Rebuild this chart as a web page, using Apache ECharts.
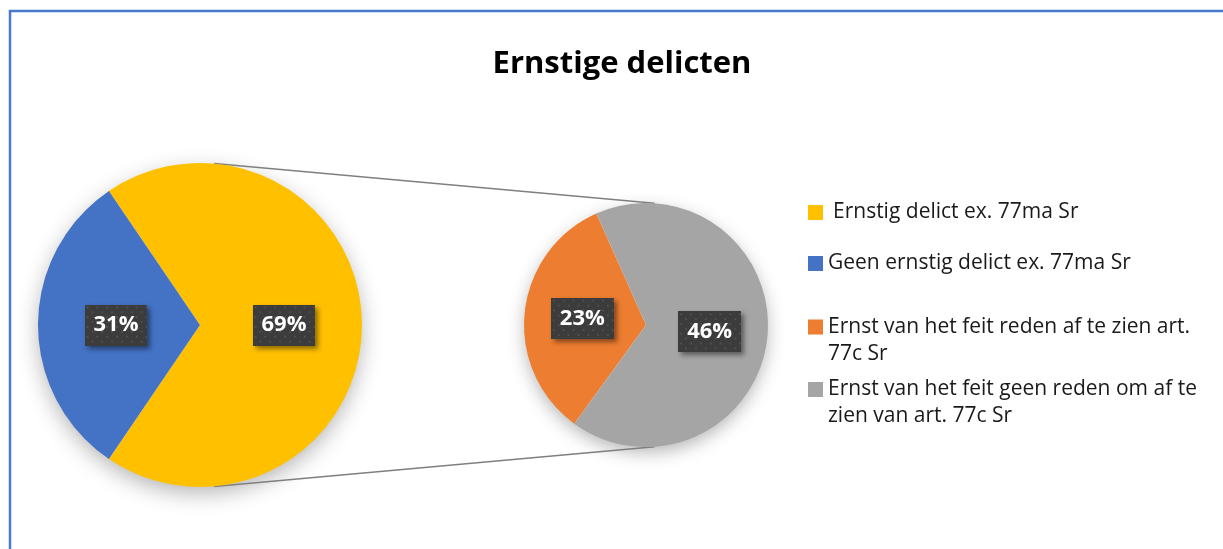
<!DOCTYPE html>
<html>
<head>
<meta charset="utf-8">
<script src="https://cdn.jsdelivr.net/npm/echarts@6/dist/echarts.min.js"></script>
<style>
  html, body { margin: 0; padding: 0; background: #fff; }
  #chart { width: 1223px; height: 549px; }
</style>
</head>
<body>
<div id="chart"></div>
<script>
// hoofdcirkel
const hoofdNamen = ['Ernstig delict ex. 77ma Sr', 'Geen ernstig delict ex. 77ma Sr'];
const hoofdWaarden = [69, 31];
// uitsplitsing van het ernstige deel
const subNamen = ['Ernst van het feit reden af te zien art. 77c Sr',
                  'Ernst van het feit geen reden om af te zien van art. 77c Sr'];
const subWaarden = [23, 46];

const GEEL = '#FFC000', BLAUW = '#4472C4', ORANJE = '#ED7D31', GRIJS = '#A5A5A5';
const FONT = '"Open Sans", sans-serif';

// layout van de twee cirkels
const L = { cx: 200, cy: 325, r: 162 };
const R = { cx: 646, cy: 325, r: 122 };

// gestippelde achtergrond voor de labels
function stippen() {
  const c = document.createElement('canvas');
  c.width = 64; c.height = 42;
  const g = c.getContext('2d');
  g.fillStyle = '#3c3c3c';
  g.fillRect(0, 0, c.width, c.height);
  g.fillStyle = '#4e4e4e';
  for (let y = 2, rij = 0; y < c.height; y += 5, rij++) {
    for (let x = (rij % 2) * 5 + 2; x < c.width; x += 10) g.fillRect(x, y, 2, 2);
  }
  return c;
}
const LABEL = {
  show: true, position: 'inside', formatter: '{c}%',
  color: '#fff', fontFamily: FONT, fontWeight: 'bold', fontSize: 22,
  backgroundColor: { image: stippen() }, padding: [9, 9, 10, 9],
  shadowColor: 'rgba(0,0,0,0.45)', shadowBlur: 5, shadowOffsetX: 3, shadowOffsetY: 3
};

function punt(p, hoek) {
  const a = hoek * Math.PI / 180;
  return [p.cx + p.r * Math.cos(a), p.cy - p.r * Math.sin(a)];
}
const lt = punt(L, 85), lb = punt(L, -85), rt = punt(R, 86), rb = punt(R, -86);

// twee regels: lege regel ervoor zodat de eerste regel naast het blokje staat
function legenda(naam, top, tweeRegels, extra) {
  return {
    data: [naam], left: 808, top: top, orient: 'vertical', padding: 0,
    icon: 'rect', itemWidth: 15, itemHeight: 15, selectedMode: false,
    formatter: tweeRegels ? (n) => '\n' + n : '{name}',
    textStyle: Object.assign({ fontFamily: FONT, fontSize: 21, color: '#1a1a1a',
                               lineHeight: 27, width: 380, overflow: 'break' }, extra || {})
  };
}

const chart = echarts.init(document.getElementById('chart'), null, { renderer: 'canvas' });
chart.setOption({
  animation: false,
  backgroundColor: '#fff',
  title: {
    text: 'Ernstige delicten', left: 617, top: 44, textAlign: 'center',
    textStyle: { fontFamily: FONT, fontWeight: 'bold', fontSize: 31, color: '#000' }
  },
  legend: [
    legenda(hoofdNamen[0], 199, false, { padding: [0, 0, 0, 5] }),
    legenda(hoofdNamen[1], 250, false),
    legenda(subNamen[0], 286.5, true),
    legenda(subNamen[1], 349, true)
  ],
  graphic: [
    { type: 'rect', z: 0, silent: true, shape: { x: 10, y: 11, width: 1400, height: 700 },
      style: { fill: null, stroke: '#4a78cc', lineWidth: 2.5 } },
    { type: 'circle', z: 0, silent: true, shape: { cx: L.cx, cy: L.cy, r: L.r - 1 },
      style: { fill: '#fff', shadowColor: 'rgba(0,0,0,0.3)', shadowBlur: 22, shadowOffsetY: 7 } },
    { type: 'circle', z: 0, silent: true, shape: { cx: R.cx, cy: R.cy, r: R.r - 1 },
      style: { fill: '#fff', shadowColor: 'rgba(0,0,0,0.3)', shadowBlur: 18, shadowOffsetY: 6 } },
    { type: 'line', z: 1, silent: true, shape: { x1: lt[0], y1: lt[1], x2: rt[0], y2: rt[1] },
      style: { stroke: '#7f7f7f', lineWidth: 1.5 } },
    { type: 'line', z: 1, silent: true, shape: { x1: lb[0], y1: lb[1], x2: rb[0], y2: rb[1] },
      style: { stroke: '#7f7f7f', lineWidth: 1.5 } }
  ],
  series: [
    {
      type: 'pie', center: [L.cx, L.cy], radius: L.r, startAngle: 124.2,
      clockwise: true, silent: true, emphasis: { disabled: true },
      label: LABEL, labelLine: { show: false },
      data: hoofdNamen.map((n, i) => ({ name: n, value: hoofdWaarden[i],
        itemStyle: { color: [GEEL, BLAUW][i] } }))
    },
    {
      type: 'pie', center: [R.cx, R.cy], radius: R.r, startAngle: 234,
      clockwise: true, silent: true, emphasis: { disabled: true },
      label: LABEL, labelLine: { show: false },
      data: subNamen.map((n, i) => ({ name: n, value: subWaarden[i],
        itemStyle: { color: [ORANJE, GRIJS][i] } }))
    }
  ]
});
</script>
</body>
</html>
